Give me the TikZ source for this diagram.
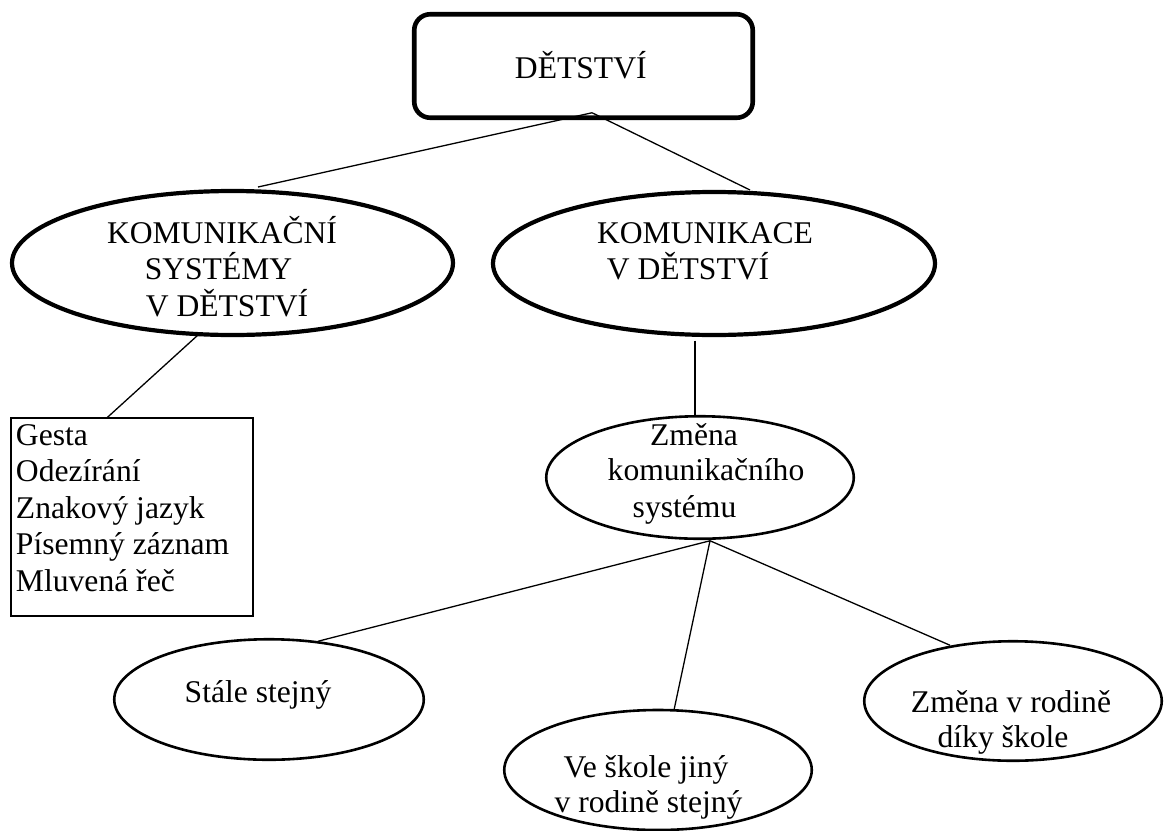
\documentclass[tikz,border=0pt]{standalone}
\usepackage{fontspec}
\setmainfont{Liberation Serif}
\usetikzlibrary{shapes.geometric}
\begin{document}
\begin{tikzpicture}[x=1pt,y=-1pt,
  every node/.style={inner sep=0pt, outer sep=0pt},
  lbl/.style={anchor=base, font=\fontsize{31.6}{36.5}\selectfont},
  lbll/.style={anchor=base west, font=\fontsize{31.6}{36.5}\selectfont},
  topbox/.style={draw, line width=4.6pt, rounded corners=16pt},
  bigoval/.style={ellipse, draw, line width=4.2pt},
  oval/.style={ellipse, draw, line width=2.6pt},
  listbox/.style={draw, line width=1.6pt},
  link/.style={line width=1.3pt}]
\useasboundingbox (0,0) rectangle (1164,830);

% shapes
\node[topbox, minimum width=338.5pt, minimum height=103.5pt] (top) at (583.5,66) {};
\node[bigoval, minimum width=441pt, minimum height=144pt] (kse) at (232.5,263) {};
\node[bigoval, minimum width=442pt, minimum height=143pt] (kvd) at (714,263.5) {};
\node[listbox, minimum width=242.5pt, minimum height=198.5pt] (list) at (132,517) {};
\node[oval, minimum width=307.5pt, minimum height=122.5pt] (zm) at (700,477.5) {};
\node[oval, minimum width=309.5pt, minimum height=120.5pt] (stale) at (269,699.5) {};
\node[oval, minimum width=307.5pt, minimum height=120pt] (vs) at (658,770) {};
\node[oval, minimum width=297.5pt, minimum height=119.5pt] (zr) at (1013,701) {};

% texts
\node[lbl] (tTop) at (580.8,78) {DĚTSTVÍ};
\node[lbl] (tKse1) at (222,243.3) {KOMUNIKAČNÍ};
\node[lbl] (tKse2) at (218.5,279.3) {SYSTÉMY};
\node[lbl] (tKse3) at (227,316) {V DĚTSTVÍ};
\node[lbl] (tKvd1) at (705,243.3) {KOMUNIKACE};
\node[lbl] (tKvd2) at (688,279.3) {V DĚTSTVÍ};
\node[lbl] (tZm1) at (694,445) {Změna};
\node[lbl] (tZm2) at (706,480) {komunikačního};
\node[lbl] (tZm3) at (684.5,517) {systému};
\node[lbll] (tL1) at (16,445) {Gesta};
\node[lbll] (tL2) at (16,481.5) {Odezírání};
\node[lbll] (tL3) at (16,518) {Znakový jazyk};
\node[lbll] (tL4) at (16,554.5) {Písemný záznam};
\node[lbll] (tL5) at (16,591) {Mluvená řeč};
\node[lbl] (tSt) at (258,702) {Stále stejný};
\node[lbl] (tVs1) at (646,777) {Ve škole jiný};
\node[lbl] (tVs2) at (648.5,812) {v rodině stejný};
\node[lbl] (tZr1) at (1011,712) {Změna v rodině};
\node[lbl] (tZr2) at (1003,747) {díky škole};

% connectors
\coordinate (j1) at ([xshift=8.5pt,yshift=5pt]top.south);
\coordinate (j2) at ([xshift=10pt,yshift=-2pt]zm.south);
\draw[link] (j1) -- ([xshift=25.5pt,yshift=4pt]kse.north);
\draw[link] (j1) -- ([xshift=36pt,yshift=2pt]kvd.north);
\draw[link] ([xshift=-34.5pt]kse.south) -- ([xshift=-25pt]list.north);
\draw[link] ([xshift=-19pt,yshift=-5.5pt]kvd.south) -- ([xshift=-5pt]zm.north);
\draw[link] (j2) -- ([xshift=49pt,yshift=-2pt]stale.north);
\draw[link] (j2) -- ([xshift=16pt]vs.north);
\draw[link] (j2) -- ([xshift=-63pt,yshift=-4pt]zr.north);
\end{tikzpicture}
\end{document}
